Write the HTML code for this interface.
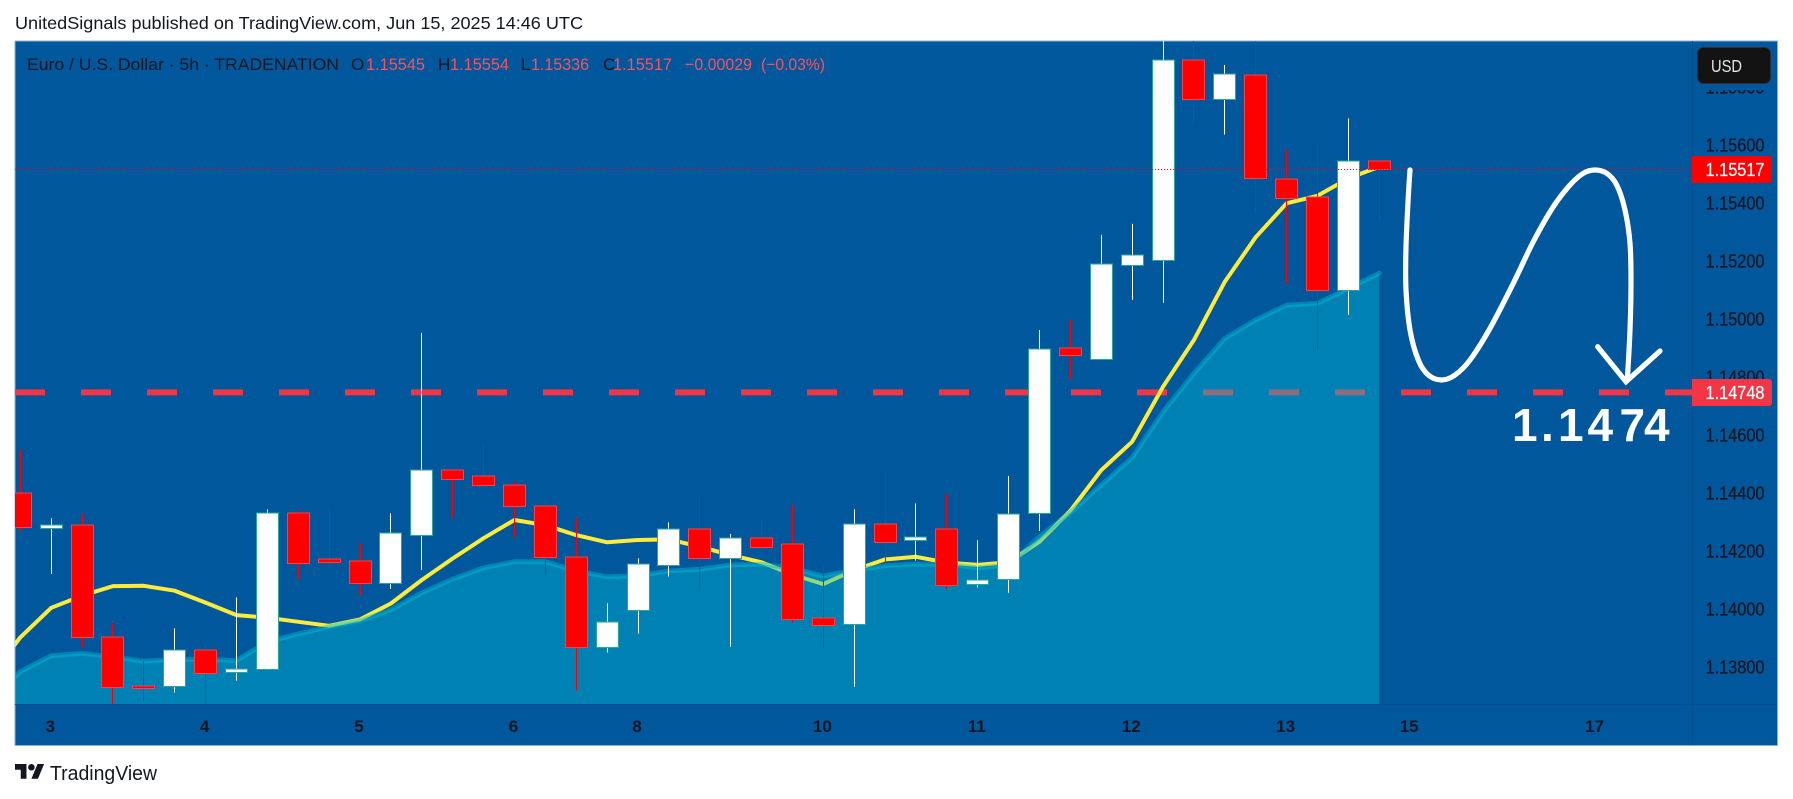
<!DOCTYPE html>
<html lang="en">
<head>
<meta charset="utf-8">
<title>EUR/USD 5h chart</title>
<style>
html,body{margin:0;padding:0;background:#fff;width:1793px;height:799px;overflow:hidden}
svg{display:block}
text{font-family:"Liberation Sans",sans-serif}
</style>
</head>
<body>
<svg id="chart" xmlns="http://www.w3.org/2000/svg" width="1793" height="799" viewBox="0 0 1793 799">
  <defs>
    <clipPath id="pane-clip"><rect x="15" y="41" width="1677" height="663"/></clipPath>
    <clipPath id="axis-clip"><rect x="1692" y="41" width="85" height="663"/></clipPath>
  </defs>
  <rect x="0" y="0" width="1793" height="799" fill="#ffffff"/>
  <text x="15" y="29" font-size="17.5" fill="#131722" textLength="568" lengthAdjust="spacingAndGlyphs">UnitedSignals published on TradingView.com, Jun 15, 2025 14:46 UTC</text>
  <rect x="15" y="41" width="1762" height="704" fill="#01579b"/>
  <rect x="15" y="41" width="1762.5" height="704.5" fill="none" stroke="#8fb0d0" stroke-width="1"/>
  <g id="pane" clip-path="url(#pane-clip)"></g>
  <line x1="1692.5" y1="41" x2="1692.5" y2="745" stroke="#01508f" stroke-width="1"/>
  <line x1="15" y1="704.5" x2="1777" y2="704.5" stroke="#01508f" stroke-width="1"/>
  <g id="price-axis" clip-path="url(#axis-clip)"></g>
  <g id="time-axis"></g>
  <path id="forecast-path" fill="none" stroke="#ffffff" stroke-width="5.2" stroke-linecap="round" stroke-linejoin="round" d=""/>
  <polyline points="1597.7,346.7 1626,381.7 1660,351" fill="none" stroke="#ffffff" stroke-width="5.2" stroke-linecap="round" stroke-linejoin="miter"/>
  <text x="1512 1541 1558 1587.5 1619.5 1644" y="441" font-size="46" font-weight="bold" fill="#ffffff">1.1474</text>

  <g font-size="17">
    <text x="27" y="69.8" fill="#131722" textLength="312" lengthAdjust="spacingAndGlyphs">Euro / U.S. Dollar · 5h · TRADENATION</text>
    <text x="351" y="69.8" fill="#131722">O</text>
    <text x="366" y="69.8" fill="#f7525f" textLength="59" lengthAdjust="spacingAndGlyphs">1.15545</text>
    <text x="438" y="69.8" fill="#131722">H</text>
    <text x="450" y="69.8" fill="#f7525f" textLength="59" lengthAdjust="spacingAndGlyphs">1.15554</text>
    <text x="521" y="69.8" fill="#131722">L</text>
    <text x="531" y="69.8" fill="#f7525f" textLength="58" lengthAdjust="spacingAndGlyphs">1.15336</text>
    <text x="603" y="69.8" fill="#131722">C</text>
    <text x="613" y="69.8" fill="#f7525f" textLength="59" lengthAdjust="spacingAndGlyphs">1.15517</text>
    <text x="685" y="69.8" fill="#f7525f" textLength="67" lengthAdjust="spacingAndGlyphs">−0.00029</text>
    <text x="761" y="69.8" fill="#f7525f" textLength="64" lengthAdjust="spacingAndGlyphs">(−0.03%)</text>
  </g>

  <g>
    <rect x="1693" y="42" width="83" height="48" fill="#01579b"/>
    <rect x="1697.5" y="47.5" width="73" height="36" rx="6" fill="#131313" stroke="#2a2e39"/>
    <text x="1711" y="72" font-size="17.5" fill="#e6e6e6" textLength="31" lengthAdjust="spacingAndGlyphs">USD</text>
  </g>

  <g>
    <path d="M1692 156H1769a3 3 0 0 1 3 3V180a3 3 0 0 1 -3 3H1692Z" fill="#ff0000"/>
    <text x="1705.5" y="176" font-size="18.5" fill="#ffffff" stroke="#ffffff" stroke-width="0.25" textLength="59" lengthAdjust="spacingAndGlyphs">1.15517</text>
  </g>
  <g>
    <path d="M1692 379H1769a3 3 0 0 1 3 3V403a3 3 0 0 1 -3 3H1692Z" fill="#f23645"/>
    <text x="1705.5" y="399" font-size="18.5" fill="#ffffff" stroke="#ffffff" stroke-width="0.25" textLength="59" lengthAdjust="spacingAndGlyphs">1.14748</text>
  </g>

  <g>
    <g transform="translate(15,760.7) scale(0.82)" fill="#131722">
      <path d="M14 22H7V11H0V4h14v18zM28 22h-8l7.5-18h8L28 22z"/>
      <circle cx="20" cy="8" r="4"/>
    </g>
    <text x="50" y="780" font-size="20" fill="#131722" textLength="107" lengthAdjust="spacingAndGlyphs">TradingView</text>
  </g>
</svg>
<script>
const opens  = [1.14400,1.14281,1.14289,1.13906,1.13735,1.13737,1.13858,1.13783,1.13793,1.14331,1.14172,1.14165,1.14092,1.14257,1.14479,1.14459,1.14427,1.14355,1.14179,1.13871,1.13997,1.14154,1.14276,1.14176,1.14245,1.14224,1.13969,1.13948,1.14293,1.14238,1.14276,1.14086,1.14103,1.14331,1.14900,1.14862,1.15186,1.15203,1.15893,1.15759,1.15841,1.15483,1.15421,1.15100,1.15545];
const highs  = [1.14549,1.14314,1.14329,1.13952,1.13822,1.13934,1.13883,1.14041,1.14345,1.14339,1.14352,1.14227,1.14331,1.14953,1.14483,1.14572,1.14440,1.14371,1.14315,1.14021,1.14176,1.14300,1.14393,1.14260,1.14310,1.14359,1.14149,1.14345,1.14479,1.14365,1.14398,1.14238,1.14460,1.14963,1.14998,1.15291,1.15329,1.15980,1.15980,1.15877,1.15980,1.15584,1.15605,1.15693,1.15554];
const lows   = [1.14270,1.14122,1.13868,1.13660,1.13681,1.13713,1.13660,1.13754,1.13793,1.14105,1.14139,1.14049,1.14070,1.14136,1.14316,1.14414,1.14248,1.14113,1.13720,1.13851,1.13916,1.14113,1.14062,1.13871,1.14187,1.13954,1.13868,1.13733,1.14161,1.14168,1.14069,1.14075,1.14057,1.14270,1.14793,1.14862,1.15067,1.15057,1.15670,1.15637,1.15373,1.15122,1.14891,1.15015,1.15336];
const closes = [1.14283,1.14289,1.13906,1.13733,1.13730,1.13858,1.13779,1.13795,1.14331,1.14161,1.14164,1.14092,1.14262,1.14479,1.14450,1.14427,1.14357,1.14179,1.13871,1.13955,1.14155,1.14276,1.14176,1.14245,1.14216,1.13968,1.13947,1.14293,1.14233,1.14248,1.14085,1.14100,1.14328,1.14896,1.14876,1.15190,1.15221,1.15893,1.15761,1.15845,1.15486,1.15420,1.15100,1.15545,1.15517];
const fastAverage = [1.13903,1.14005,1.14047,1.14080,1.14081,1.14064,1.14023,1.13980,1.13971,1.13957,1.13943,1.13965,1.14020,1.14101,1.14175,1.14245,1.14308,1.14290,1.14256,1.14231,1.14239,1.14241,1.14216,1.14187,1.14162,1.14120,1.14087,1.14135,1.14172,1.14181,1.14161,1.14153,1.14162,1.14233,1.14340,1.14480,1.14578,1.14768,1.14929,1.15130,1.15283,1.15400,1.15426,1.15486,1.15526];
const slowAverage = [1.13785,1.13840,1.13848,1.13836,1.13821,1.13827,1.13828,1.13823,1.13888,1.13915,1.13940,1.13961,1.13998,1.14057,1.14104,1.14143,1.14164,1.14164,1.14133,1.14112,1.14116,1.14132,1.14138,1.14153,1.14156,1.14141,1.14115,1.14135,1.14150,1.14156,1.14155,1.14143,1.14153,1.14250,1.14334,1.14429,1.14524,1.14681,1.14814,1.14934,1.14998,1.15049,1.15055,1.15107,1.15159];
const priceTicks = [1.158,1.156,1.154,1.152,1.150,1.148,1.146,1.144,1.142,1.140,1.138];
const timeTickLabels = ["3","4","5","6","8","10","11","12","13","15","17"];
const timeTickBars = [1,6,11,16,20,26,31,36,41,45,51];
const lastPrice = 1.15517;
const levelPrice = 1.14748;

const SVGNS = "http://www.w3.org/2000/svg";
const PANE_LEFT = 15, PANE_RIGHT = 1692, PANE_BOTTOM = 704;
function xScale(i){ return 20.3 + i * 30.886; }
function yScale(p){ return 145.3 + (1.156 - p) * 29000; }
function make(tag, attrs){
  const node = document.createElementNS(SVGNS, tag);
  for (const k in attrs) node.setAttribute(k, attrs[k]);
  return node;
}
const pane = document.getElementById("pane");
const priceAxis = document.getElementById("price-axis");
const timeAxis = document.getElementById("time-axis");

// key level dashed line (sits under the averages and area)
const level = make("line", {x1:PANE_LEFT, x2:PANE_RIGHT, y1:yScale(levelPrice), y2:yScale(levelPrice), stroke:"#f23645", "stroke-width":6, "stroke-dasharray":"30 36"});


pane.appendChild(level);

// fast average
const fastPts = fastAverage.map((v, i) => xScale(i).toFixed(1) + "," + yScale(v).toFixed(1));
fastPts.unshift((PANE_LEFT - 5) + "," + (yScale(fastAverage[0]) + 10 * 1.35).toFixed(1));
const fastLine = make("polyline", {points:fastPts.join(" "), fill:"none", stroke:"#ffeb3b", "stroke-width":4, "stroke-linejoin":"round"});


pane.appendChild(fastLine);

// slow average area
const slowPts = slowAverage.map((v, i) => xScale(i).toFixed(1) + "," + yScale(v).toFixed(1));
slowPts.unshift((PANE_LEFT - 5) + "," + (yScale(slowAverage[0]) + 10).toFixed(1));
const lastX = xScale(slowAverage.length - 1).toFixed(1);
const area = make("polygon", {points:slowPts.join(" ") + " " + lastX + "," + PANE_BOTTOM + " " + (PANE_LEFT - 5) + "," + PANE_BOTTOM, fill:"rgb(0,188,212)", "fill-opacity":0.42});


pane.appendChild(area);
const slowLine = make("polyline", {points:slowPts.join(" "), fill:"none", stroke:"rgb(0,188,212)", "stroke-opacity":0.45, "stroke-width":4.8, "stroke-linejoin":"round", "stroke-linecap":"round"});


pane.appendChild(slowLine);

// candles
opens.forEach((open, i) => {
  const close = closes[i];
  const up = close >= open;
  const px = Math.floor(xScale(i));
  const group = make("g", {});
  
  
  const wick = make("rect", {x:px, y:yScale(highs[i]), width:1, height:Math.max(yScale(lows[i]) - yScale(highs[i]), 1), fill:up ? "#ffffff" : "#ff0000"});
  
  
  group.appendChild(wick);
  const top = Math.round(yScale(Math.max(open, close))) + 0.5;
  const bottom = Math.round(yScale(Math.min(open, close))) + 0.5;
  const body = make("rect", {x:px - 10.5, y:top - 0.5, width:22, height:Math.max(bottom - top, 1) + 0.5, fill:up ? "#ffffff" : "#ff0000", stroke:up ? "#26a69a" : "#f5424f", "stroke-width":1});
  
  
  group.appendChild(body);
  pane.appendChild(group);
});

// last price dotted line
const lastLine = make("line", {x1:PANE_LEFT, x2:PANE_RIGHT, y1:Math.floor(yScale(lastPrice)) + 0.5, y2:Math.floor(yScale(lastPrice)) + 0.5, stroke:"#ff0000", "stroke-width":1, "stroke-dasharray":"1 2"});


pane.appendChild(lastLine);

// price ticks
priceTicks.forEach(p => {
  const label = make("text", {x:1705.5, y:yScale(p) + 6.4, "font-size":18, fill:"#131722", stroke:"#131722", "stroke-width":0.25, textLength:59, lengthAdjust:"spacingAndGlyphs"});
  
  
  label.textContent = p.toFixed(5);
  priceAxis.appendChild(label);
});

// time ticks
timeTickLabels.forEach((t, i) => {
  const label = make("text", {x:xScale(timeTickBars[i]) - 1, y:732, "font-size":17, "font-weight":"bold", fill:"#131722", "text-anchor":"middle"});
  
  
  label.textContent = t;
  timeAxis.appendChild(label);
});

// freehand forecast stroke, smoothed through its hand-drawn anchor spots
const stroke = [[1410,170],[1408.3,196.7],[1406,246.7],[1406,290],[1410,330],[1418.3,360],[1428.3,375],[1441.7,380],[1455,375],[1470,360],[1490,328.3],[1513.3,283.3],[1533.3,241.7],[1553.3,206.7],[1570,185],[1583.3,173.3],[1595,170],[1606.7,173.3],[1616.7,185],[1625,210],[1630,243.3],[1631,283.3],[1630,330],[1627.3,380]];
let d = "M" + stroke[0][0] + " " + stroke[0][1];
for (let i = 0; i < stroke.length - 1; i++) {
  const p0 = stroke[Math.max(i - 1, 0)], p1 = stroke[i], p2 = stroke[i + 1], p3 = stroke[Math.min(i + 2, stroke.length - 1)];
  d += "C" + (p1[0] + (p2[0] - p0[0]) / 6).toFixed(1) + " " + (p1[1] + (p2[1] - p0[1]) / 6).toFixed(1) + " " +
       (p2[0] - (p3[0] - p1[0]) / 6).toFixed(1) + " " + (p2[1] - (p3[1] - p1[1]) / 6).toFixed(1) + " " + p2[0] + " " + p2[1];
}
document.getElementById("forecast-path").setAttribute("d", d);
</script>
</body>
</html>
